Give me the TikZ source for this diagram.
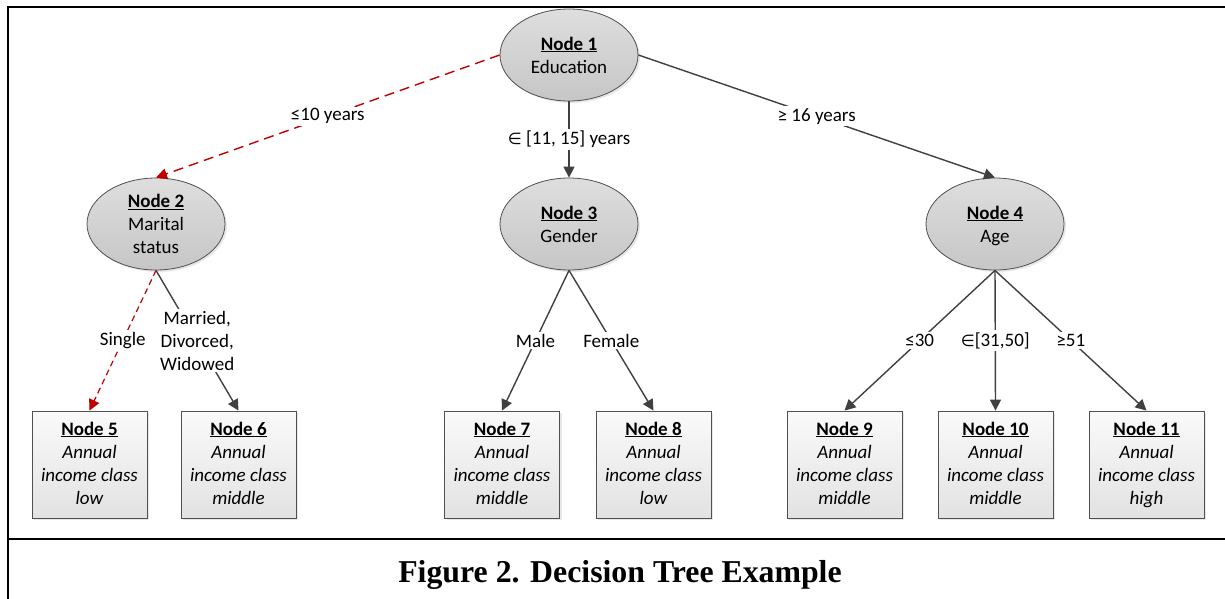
\documentclass[tikz,border=0pt]{standalone}
\usepackage{fontspec}
\setmainfont{Carlito}
\newfontfamily\capfont{Liberation Serif}
\newfontfamily\symfont{DejaVu Sans}
\usetikzlibrary{arrows.meta,shapes.geometric,shadows}

\definecolor{edgegray}{HTML}{404040}
\definecolor{pathred}{HTML}{C00000}
\definecolor{ovaltop}{HTML}{DEDEDE}
\definecolor{ovalbot}{HTML}{C6C6C6}
\definecolor{leaftop}{HTML}{FAFAFA}
\definecolor{leafbot}{HTML}{E2E2E2}
\definecolor{rimgray}{HTML}{505050}

% element-of sign taken from a family that has it
\newcommand{\elemof}{{\symfont\fontsize{16}{23}\selectfont ∈}}
% leaf text: title, then the income class
\newcommand{\leaftext}[2]{\underline{\textbf{Node #1}}\\\textit{Annual}\\\textit{income class}\\\textit{#2}\vphantom{g}}
% split text: title, then the attribute tested
\newcommand{\splittext}[2]{\underline{\textbf{Node #1}}\\#2\vphantom{g}}

\begin{document}
\begin{tikzpicture}[x=1pt,y=-1pt,
  txt/.style={font=\fontsize{19}{23}\selectfont},
  split/.style={ellipse, draw=rimgray, line width=0.8pt,
    minimum width=138pt, minimum height=92pt, inner sep=0pt,
    top color=ovaltop, bottom color=ovalbot,
    drop shadow={shadow xshift=2pt, shadow yshift=-2pt, opacity=0.18}},
  splitlbl/.style={txt, align=center, yshift=-1.5pt},
  leaf/.style={rectangle, draw=rimgray, line width=0.8pt,
    minimum width=115pt, minimum height=107pt, inner sep=0pt,
    top color=leaftop, bottom color=leafbot, align=center, txt,
    drop shadow={shadow xshift=2pt, shadow yshift=-2pt, opacity=0.18}},
  branch/.style={draw=edgegray, line width=1.4pt,
    -{Triangle[length=11pt,width=11pt]}},
  chosen/.style={draw=pathred, line width=1.4pt,
    -{Triangle[length=11pt,width=11pt]}},
  lbl/.style={fill=white, inner sep=2pt, txt, align=center, text=black},
  frame/.style={line width=2.7pt, line cap=rect}
]
\useasboundingbox (0,0) rectangle (1225,598);

% outer frame and caption separator
\coordinate (tl) at (8,7);
\coordinate (tr) at (1226,7);
\coordinate (bl) at (8,599);
\coordinate (sl) at (8,539);
\coordinate (sr) at (1226,539);
\draw[frame] (bl) -- (tl) -- (tr);
\draw[frame] (sl) -- (sr);

% split nodes
\node[split, label={[splitlbl]center:{\splittext{1}{Education}}}] (n1) at (569,55) {};
\node[split, label={[splitlbl]center:{\splittext{2}{Marital\\status}}}] (n2) at (156,224) {};
\node[split, label={[splitlbl]center:{\splittext{3}{Gender}}}] (n3) at (569,224) {};
\node[split, label={[splitlbl]center:{\splittext{4}{Age}}}] (n4) at (995,224) {};

% leaves
\node[leaf] (n5) at (89.5,464.5) {\leaftext{5}{low}};
\node[leaf] (n6) at (238.5,464.5) {\leaftext{6}{middle}};
\node[leaf] (n7) at (502,464.5) {\leaftext{7}{middle}};
\node[leaf] (n8) at (653.5,464.5) {\leaftext{8}{low}};
\node[leaf] (n9) at (844.5,464.5) {\leaftext{9}{middle}};
\node[leaf] (n10) at (995.5,464.5) {\leaftext{10}{middle}};
\node[leaf] (n11) at (1146.5,464.5) {\leaftext{11}{high}};

% branches
\draw[chosen, dash pattern=on 10pt off 6pt] (n1.west) -- node[lbl] {≤10 years} (n2.north);
\draw[branch] (n1.south) -- node[lbl] {\elemof\ [11, 15] years} (n3.north);
\draw[branch] (n1.east) -- node[lbl] {≥ 16 years} (n4.north);

\draw[chosen, line width=1.2pt, dash pattern=on 6pt off 4pt] (n2.south) -- node[lbl] {Single} (n5.north);
\draw[branch] (n2.south) -- node[lbl] {Married,\\Divorced,\\Widowed} (n6.north);

\draw[branch] (n3.south) -- node[lbl] {Male} (n7.north);
\draw[branch] (n3.south) -- node[lbl] {Female} (n8.north);

\draw[branch] (n4.south) -- node[lbl] {≤30} (n9.north);
\draw[branch] (n4.south) -- node[lbl] {\elemof[31,50]} (n10.north);
\draw[branch] (n4.south) -- node[lbl] {≥51} (n11.north);

% caption
\node[font=\capfont\bfseries\fontsize{31.8}{36}\selectfont, anchor=base] (cap) at (620,582) {Figure 2. Decision Tree Example};
\end{tikzpicture}
\end{document}
